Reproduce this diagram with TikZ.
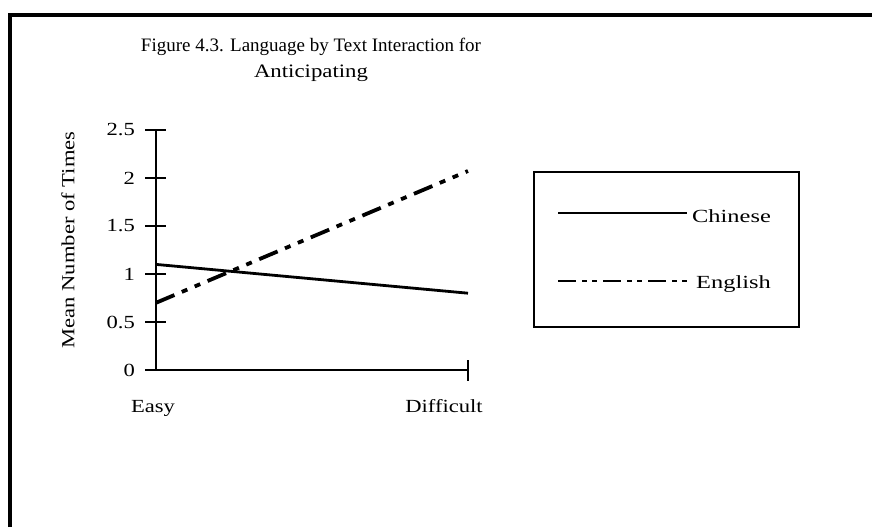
\documentclass[tikz,border=0pt]{standalone}
\usepackage{fontspec}
\setmainfont{Liberation Serif}
\newcommand{\wide}[1]{\scalebox{1.22}[1]{#1}}
\newcommand{\wider}[1]{\scalebox{1.32}[1]{#1}}
\begin{document}
\begin{tikzpicture}[x=1pt,y=-1pt,
  axisline/.style={line width=2.6pt},
  chinese/.style={line width=2.8pt},
  english/.style={line width=3.8pt, dash pattern=on 20pt off 8pt on 6pt off 8pt on 6pt off 8pt},
  englishleg/.style={line width=2.8pt, dash pattern=on 18pt off 6pt on 5pt off 5pt on 5pt off 6pt},
  lbl/.style={font=\fontsize{18.5}{21}\selectfont, inner sep=0pt},
  ttl/.style={font=\fontsize{19}{22}\selectfont, inner sep=0pt},
  frame/.style={line width=3.4pt}]
\useasboundingbox (0,0) rectangle (872,527);
% outer frame (open at bottom and right)
\draw[frame] (10,527) -- (10,15) -- (872,15);
% title
\node[ttl] (t1) at (311,47) {Figure 4.3. Language by Text Interaction for};
\node[ttl] (t2) at (311,73) {\scalebox{1.2}[1]{Anticipating}};
% axes
\coordinate (o) at (156,370);
\coordinate (ytop) at (156,130);
\coordinate (xend) at (468,370);
\draw[axisline] (ytop) -- (o) -- (xend);
\draw[axisline] (468,360) -- (468,381);
\foreach \v/\t in {0/0,0.5/0.5,1/1,1.5/1.5,2/2,2.5/2.5}{
  \draw[axisline] (145,370-96*\v) -- (166,370-96*\v);
  \node[lbl, anchor=east] at (135,370-96*\v) {\wide{\t}};
}
\node[lbl, rotate=90] (ylab) at (68,240) {\wide{Mean Number of Times}};
\node[lbl] (easy) at (153,408) {\wide{Easy}};
\node[lbl] (diff) at (444,406) {\wide{Difficult}};
% data
\coordinate (c1) at (156,264.4);
\coordinate (c2) at (468,293.2);
\coordinate (e1) at (156,302.8);
\coordinate (e2) at (468,171);
\draw[chinese] (c1) -- (c2);
\draw[english] (e1) -- (e2);
% legend
\draw[line width=2.8pt] (534,172) rectangle (799,327);
\coordinate (lc1) at (558,213);
\coordinate (lc2) at (687,213);
\coordinate (le1) at (558,281);
\coordinate (le2) at (688,281);
\draw[line width=2.4pt] (lc1) -- (lc2);
\draw[englishleg] (le1) -- (le2);
\node[lbl, anchor=west] (lgc) at (692,216) {\wider{Chinese}};
\node[lbl, anchor=west] (lge) at (696,284) {\wider{English}};
\end{tikzpicture}
\end{document}
